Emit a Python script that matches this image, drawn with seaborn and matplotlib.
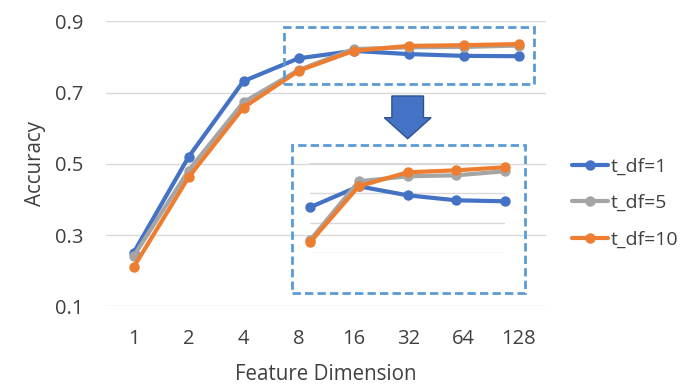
import pandas as pd
import seaborn as sns
import matplotlib.pyplot as plt
from matplotlib.patches import Rectangle, FancyArrow

# data
dims = ["1", "2", "4", "8", "16", "32", "64", "128"]
acc_df1 = [0.250, 0.519, 0.732, 0.796, 0.817, 0.808, 0.803, 0.802]
acc_df5 = [0.240, 0.481, 0.673, 0.763, 0.822, 0.827, 0.828, 0.832]
acc_df10 = [0.209, 0.462, 0.658, 0.761, 0.817, 0.831, 0.833, 0.836]
series = ["t_df=1", "t_df=5", "t_df=10"]
colors = ["#4472C4", "#A5A5A5", "#ED7D31"]

rows = []
for name, vals in zip(series, [acc_df1, acc_df5, acc_df10]):
    for i, v in enumerate(vals):
        rows.append({"pos": i, "dim": dims[i], "acc": v, "series": name})
data = pd.DataFrame(rows)
zoom = data[data["pos"] >= 3]

sns.set_theme(style="white")
plt.rcParams["font.family"] = ["Open Sans", "DejaVu Sans"]

fig = plt.figure(figsize=(6.94, 3.92), dpi=100)
ax = fig.add_axes([106 / 694, 1 - 306.3 / 392, 440 / 694, 285 / 392])

line_kw = dict(linewidth=3, marker="o", markersize=7.5, markeredgewidth=0)
sns.lineplot(data=data, x="pos", y="acc", hue="series", hue_order=series,
             palette=colors, ax=ax, **line_kw)

ax.set_xlim(-0.5, 7.5)
ax.set_ylim(0.1, 0.9)
ax.set_yticks([0.1, 0.3, 0.5, 0.7, 0.9])
ax.set_yticklabels(["0.1", "0.3", "0.5", "0.7", "0.9"])
ax.set_xticks(range(len(dims)))
ax.set_xticklabels(dims)
ax.grid(axis="y", color="#D9D9D9", linewidth=1)
ax.tick_params(axis="both", length=0, labelsize=14.5, colors="#404040")
ax.tick_params(axis="x", pad=16)
ax.tick_params(axis="y", pad=16)
for s in ax.spines.values():
    s.set_visible(False)
ax.set_xlabel("Feature Dimension", fontsize=14.8, color="#404040", labelpad=11)
ax.set_ylabel("Accuracy", fontsize=14.8, color="#404040", labelpad=7)

sns.move_legend(ax, "center left", bbox_to_anchor=(554 / 694, 1 - 203 / 392),
                bbox_transform=fig.transFigure, frameon=False, title=None,
                fontsize=14, handlelength=1.9, handletextpad=0.1,
                labelspacing=0.95, labelcolor="#404040")

# inset with the zoomed right part
axin = fig.add_axes([310 / 694, 1 - 253.3 / 392, 195 / 694, 90 / 392])
sns.lineplot(data=zoom, x="pos", y="acc", hue="series", hue_order=series,
             palette=colors, ax=axin, legend=False, **line_kw)
for ln in axin.lines:
    ln.set_clip_on(False)
axin.set_xlim(3, 7)
axin.set_ylim(0.75, 0.84)
axin.set_yticks([0.75, 0.78, 0.81, 0.84])
axin.set_xticks([])
axin.grid(axis="y", color="#D9D9D9", linewidth=1)
axin.tick_params(length=0, labelleft=False, labelbottom=False)
axin.set_xlabel("")
axin.set_ylabel("")
axin.patch.set_alpha(0)
for s in axin.spines.values():
    s.set_visible(False)

# dashed highlight boxes and arrow
box_kw = dict(fill=False, edgecolor="#5B9BD5", linewidth=2, linestyle=(0, (3, 1.5)),
              clip_on=False, zorder=5)
ax.add_patch(Rectangle((2.736, 0.725), 7.28 - 2.736, 0.883 - 0.725, **box_kw))
ax.add_patch(Rectangle((2.88, 0.1375), 7.118 - 2.88, 0.5515 - 0.1375, **box_kw))
ax.add_patch(FancyArrow(4.985, 0.6904, 0, -0.12, width=0.575, head_width=0.85,
                        head_length=0.059, length_includes_head=True,
                        facecolor="#4472C4", edgecolor="#2F528F", linewidth=1,
                        clip_on=False, zorder=5))

fig.savefig("out.png", dpi=100)
